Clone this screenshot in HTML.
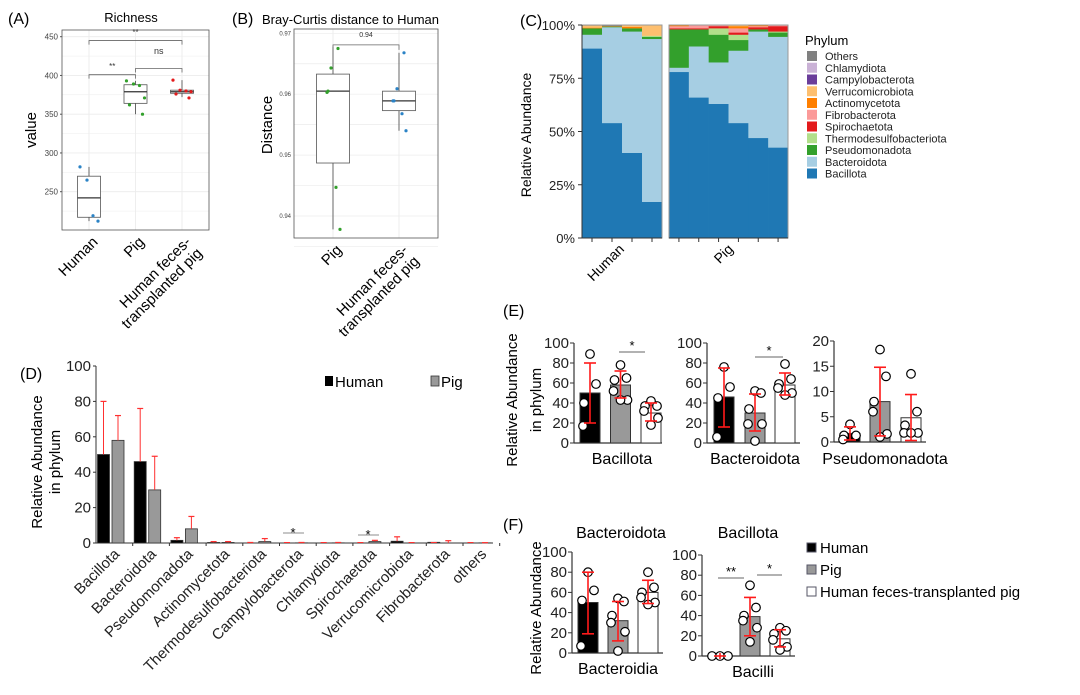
<!DOCTYPE html>
<html><head><meta charset="utf-8">
<style>
html,body{margin:0;padding:0;background:#fff;}
svg{display:block;font-family:"Liberation Sans",Arial,sans-serif;}
</style></head>
<body>
<svg id="fig" width="1080" height="695" viewBox="0 0 1080 695"></svg>
<script>
// ---------- Panel A data ----------
const richCats=['Human','Pig','Human feces-transplanted pig'];
const richStats=[[212,217,242,270,282],[350,364,379,388,393],[372,377,379,381,394]];
const richPts=[[282,265,219,212],[393,389,387,371,362,350],[394,381,380,379,376,371]];
const richTicks=[250,300,350,400,450];
// ---------- Panel B data ----------
const bcCats=['Pig','Human feces-transplanted pig'];
const bcStats=[[0.9378,0.9487,0.9605,0.9633,0.9678],[0.954,0.9573,0.9589,0.9605,0.9668]];
const bcPts=[[0.9675,0.9643,0.9605,0.9603,0.9447,0.9378],[0.9668,0.9609,0.9589,0.9589,0.9568,0.954]];
const bcTicks=[0.94,0.95,0.96,0.97];
// ---------- Panel C data ----------
const phyla=['Bacillota','Bacteroidota','Pseudomonadota','Thermodesulfobacteriota','Spirochaetota','Fibrobacterota','Actinomycetota','Verrucomicrobiota','Campylobacterota','Chlamydiota','Others'];
const phylaColors=['#1f78b4','#a6cee3','#33a02c','#b2df8a','#e31a1c','#fb9a99','#ff7f00','#fdbf6f','#6a3d9a','#cab2d6','#808080'];
const cBacillota=[89,54,40,17,78,66,63,54,47,42.5];
const cBacteroidota=[6.5,45,57,76.5,2,24,19.5,34,50,52];
const cPseudo=[3,0.3,1.5,1,18,8,13,5,1,2];
const cThermo=[0,0,0,0.5,0,0,3,2.5,0,0.5];
const cSpiro=[0,0,0,0,0.5,0.5,1,1,1,2.5];
const cFibro=[0,0,0,0,1,1.5,0.5,2,0.5,0.5];
const cActino=[0.3,0.2,0.7,0,0.5,0,0,1,0.5,0];
const cVerruco=[1,0,0.8,5,0,0,0,0.5,0,0];
const cCampylo=[0,0,0,0,0,0,0,0,0,0];
const cChlamyd=[0,0,0,0,0,0,0,0,0,0];
const cOthers=[0.2,0.5,0,0,0,0,0,0,0,0];
const cTicks=[0,25,50,75,100];
// ---------- Panel D data ----------
const dCats=['Bacillota','Bacteroidota','Pseudomonadota','Actinomycetota','Thermodesulfobacteriota','Campylobacterota','Chlamydiota','Spirochaetota','Verrucomicrobiota','Fibrobacterota','others'];
const dHuman=[50,46,1.5,0.3,0,0,0,0,1,0.4,0];
const dPig=[58,30,8,0.3,0.8,0.1,0.1,0.8,0,0,0.1];
const dHumanErr=[80,76,3,0.8,0.3,0,0,0,3.5,0,0];
const dPigErr=[72,49,15,0.8,2.5,0.3,0.3,1.5,0,1.3,0.2];
const dTicks=[0,20,40,60,80,100];
// ---------- Panel E data ----------
const eBacMean=[50,58,30], eBacLo=[20,45,22], eBacHi=[80,72,40];
const eBacPts=[[89,59,40,17],[78,65,63,52,43,43],[42,37,37,32,25,18]];
const eBctMean=[46,30,58], eBctLo=[16,12,48], eBctHi=[75,49,70];
const eBctPts=[[76,56,45,6],[52,50,34,19,19,2],[79,64,59,55,50,48]];
const ePseMean=[1.7,8,4.8], ePseLo=[0.4,1.2,0.3], ePseHi=[3,14.8,9.4];
const ePsePts=[[3.5,1.3,1.3,0.5],[18.3,13,8,6,1.6,1],[13.5,6,3.3,1.8,1.8,1.8]];
const eTicks100=[0,20,40,60,80,100], eTicks20=[0,5,10,15,20];
// ---------- Panel F data ----------
const fBctMean=[50,32,60], fBctLo=[19,12,49], fBctHi=[80,51,72];
const fBctPts=[[80,62,52,7],[54,51,37,30,21,2],[80,65,60,55,50,48]];
const fBacMean=[0,39,17], fBacLo=[0,20,9], fBacHi=[0,58,26];
const fBacPts=[[0,0,0],[70,48,40,35,28,14],[28,25,22,16,9,6]];
const groupNames=['Human','Pig','Human feces-transplanted pig'];
const groupFills=['#000000','#999999','#ffffff'];

const NS='http://www.w3.org/2000/svg';
const root=document.getElementById('fig');
function mk(tag,attrs,parent){const e=document.createElementNS(NS,tag);for(const k in attrs)e.setAttribute(k,attrs[k]);(parent||root).appendChild(e);return e;}
function tx(x,y,s,size,anchor,parent,fill){const e=mk('text',{x:x,y:y,'font-size':size,'text-anchor':anchor||'start',fill:fill||'#000'},parent);e.textContent=s;return e;}
function grp(name){const g=mk('g',{});return g;}

[['(A)',8,24],['(B)',232,24],['(C)',520,26],['(D)',20,379],['(E)',503,316],['(F)',503,530]].forEach(p=>{
  const t=tx(p[1],p[2],p[0],16,'start');
  
  
});

// ---------- Panel A ----------
(function(){
  const g=grp('panel-a-richness');
  const L=62,R=209,T=30,B=230;
  const y=v=>191.7-(v-250)*0.775;
  const x=i=>89+i*46.5;
  mk('rect',{x:L,y:T,width:R-L,height:B-T,fill:'#fff'},g);
  for(let v=225;v<=450;v+=25){mk('line',{x1:L,x2:R,y1:y(v),y2:y(v),stroke:'#ececec','stroke-width':v%50?0.5:0.9},g);}
  richCats.forEach((c,i)=>mk('line',{x1:x(i),x2:x(i),y1:T,y2:B,stroke:'#ececec','stroke-width':0.9},g));
  mk('rect',{x:L,y:T,width:R-L,height:B-T,fill:'none',stroke:'#555','stroke-width':0.8},g);
  richTicks.forEach(v=>{const t=tx(L-4,y(v)+3,String(v),8,'end',g,'#444');mk('line',{x1:L-2,x2:L,y1:y(v),y2:y(v),stroke:'#555'},g);});
  const cols=['#2b83c6','#33a02c','#e31a1c'];
  richStats.forEach((s,i)=>{
    const cx=x(i),w=23;
    mk('line',{x1:cx,x2:cx,y1:y(s[0]),y2:y(s[4]),stroke:'#444','stroke-width':0.8},g);
    const b=mk('rect',{x:cx-w/2,y:y(s[3]),width:w,height:y(s[1])-y(s[3]),fill:'#fff',stroke:'#555','stroke-width':0.8},g);
    
    
    mk('line',{x1:cx-w/2,x2:cx+w/2,y1:y(s[2]),y2:y(s[2]),stroke:'#333','stroke-width':1.3},g);
    richPts[i].forEach((v,j)=>{const jit=[-9,-2,4,9,-6,7][j%6];const p=mk('circle',{cx:cx+jit,cy:y(v),r:1.6,fill:cols[i]},g);});
    const mx=tx(cx+6,246,'',15,'end',g);
    mx.setAttribute('transform','rotate(-45 '+(cx+4)+' 240)');
    const parts=richCats[i]==='Human feces-transplanted pig'?['Human feces-','transplanted pig']:[richCats[i]];
    parts.forEach((p,k)=>{const ts=mk('tspan',{x:cx+6,dy:k?16:0},mx);ts.textContent=p;});
    
  });
  function br(i1,i2,v,lab,ly){const yy=y(v);mk('path',{d:`M${x(i1)} ${yy+4}V${yy}H${x(i2)}V${yy+4}`,fill:'none',stroke:'#666','stroke-width':0.8},g);tx((x(i1)+x(i2))/2,ly,lab,lab==='ns'?9:8,'middle',g,'#333');}
  br(0,1,401,'**',69);br(1,2,409,'ns',54);br(0,2,445,'**',35);
  tx(131,22,'Richness',13,'middle',g);
  const yl=tx(0,0,'value',15,'middle',g);yl.setAttribute('transform','translate(36,130) rotate(-90)');
  
})();

// ---------- Panel B ----------
(function(){
  const g=grp('panel-b-bray-curtis');
  const L=294,R=438,T=29,B=238;
  const y=v=>33.3+(0.97-v)/0.03*182.7;
  const x=i=>333+i*66;
  mk('rect',{x:L,y:T,width:R-L,height:B-T,fill:'#fff'},g);
  for(let v=0.935;v<=0.9701;v+=0.005){mk('line',{x1:L,x2:R,y1:y(v),y2:y(v),stroke:'#ececec','stroke-width':0.7},g);}
  bcCats.forEach((c,i)=>mk('line',{x1:x(i),x2:x(i),y1:T,y2:B,stroke:'#ececec','stroke-width':0.9},g));
  mk('rect',{x:L,y:T,width:R-L,height:B-T,fill:'none',stroke:'#555','stroke-width':0.8},g);
  bcTicks.forEach(v=>{const t=tx(L-3,y(v)+2,v.toFixed(2),6,'end',g,'#444');});
  const cols=['#33a02c','#2b83c6'];
  bcStats.forEach((s,i)=>{
    const cx=x(i),w=33;
    mk('line',{x1:cx,x2:cx,y1:y(s[0]),y2:y(s[4]),stroke:'#444','stroke-width':0.8},g);
    const b=mk('rect',{x:cx-w/2,y:y(s[3]),width:w,height:y(s[1])-y(s[3]),fill:'#fff',stroke:'#555','stroke-width':0.8},g);
    
    
    mk('line',{x1:cx-w/2,x2:cx+w/2,y1:y(s[2]),y2:y(s[2]),stroke:'#333','stroke-width':1.3},g);
    bcPts[i].forEach((v,j)=>{const jit=[5,-2,-5,-6,3,7][j%6];const p=mk('circle',{cx:cx+jit,cy:y(v),r:1.6,fill:cols[i]},g);});
    const mx=tx(cx+6,254,'',15,'end',g);
    mx.setAttribute('transform','rotate(-45 '+(cx+4)+' 248)');
    const parts=bcCats[i]==='Pig'?['Pig']:['Human feces-','transplanted pig'];
    parts.forEach((p,k)=>{const ts=mk('tspan',{x:cx+6,dy:k?16:0},mx);ts.textContent=p;});
    
  });
  const yy=y(0.9681);mk('path',{d:`M${x(0)} ${yy+5}V${yy}H${x(1)}V${yy+5}`,fill:'none',stroke:'#666','stroke-width':0.8},g);
  tx(366,37,'0.94',7,'middle',g,'#333');
  tx(262,24,'Bray-Curtis distance to Human',13,'start',g);
  const yl=tx(0,0,'Distance',15,'middle',g);yl.setAttribute('transform','translate(272,125) rotate(-90)');
  
})();

// ---------- Panel C ----------
(function(){
  const g=grp('panel-c-stacked-abundance');
  const T=25,B=238;
  const y=v=>B-(v/100)*(B-T);
  const series=[cBacillota,cBacteroidota,cPseudo,cThermo,cSpiro,cFibro,cActino,cVerruco,cCampylo,cChlamyd,cOthers];
  const facets=[{L:582,R:662,idx:[0,1,2,3],lab:'Human'},{L:669,R:788,idx:[4,5,6,7,8,9],lab:'Pig'}];
  facets.forEach(f=>{
    const n=f.idx.length,w=(f.R-f.L)/n;
    f.idx.forEach((s,k)=>{
      let acc=0;
      series.forEach((arr,p)=>{
        const v=arr[s];if(v<=0)return;
        const r=mk('rect',{x:f.L+k*w,y:y(acc+v),width:w+0.3,height:y(acc)-y(acc+v)+0.2,fill:phylaColors[p]},g);
        
        acc+=v;
      });
      mk('line',{x1:f.L+(k+0.5)*w,x2:f.L+(k+0.5)*w,y1:B,y2:B+4,stroke:'#333'},g);
    });
    mk('rect',{x:f.L,y:T,width:f.R-f.L,height:B-T,fill:'none',stroke:'#999','stroke-width':1},g);
    mk('line',{x1:f.L,x2:f.R,y1:B,y2:B,stroke:'#333','stroke-width':1},g);
  });
  mk('line',{x1:582,x2:582,y1:T,y2:B,stroke:'#333'},g);
  cTicks.forEach(v=>{mk('line',{x1:578,x2:582,y1:y(v),y2:y(v),stroke:'#333'},g);const t=tx(575,y(v)+5,v+'%',13,'end',g,'#222');});
  const h=tx(0,0,'Human',14,'end',g);h.setAttribute('transform','translate(625,250) rotate(-45)');
  const p=tx(0,0,'Pig',14,'end',g);p.setAttribute('transform','translate(734,250) rotate(-45)');
  const yl=tx(0,0,'Relative Abundance',14,'middle',g);yl.setAttribute('transform','translate(531,135) rotate(-90)');
  tx(805,45,'Phylum',13,'start',g);
  const order=[10,9,8,7,6,5,4,3,2,1,0];
  order.forEach((p,k)=>{
    const yy=51+k*11.75;
    const e=mk('g',{},g);
    
    
    mk('rect',{x:807,y:yy,width:10,height:10,fill:phylaColors[p]},e);
    tx(825,yy+9,phyla[p],11,'start',e,'#222');
  });
})();

// ---------- Panel D ----------
(function(){
  const g=grp('panel-d-phylum-bars');
  const L=96,R=493,T=366,B=543,gw=36.7;
  const y=v=>B-(v/100)*(B-T);
  mk('line',{x1:L,x2:L,y1:T,y2:B,stroke:'#333','stroke-width':1},g);
  mk('line',{x1:L,x2:R,y1:B,y2:B,stroke:'#333','stroke-width':1},g);
  dTicks.forEach(v=>{mk('line',{x1:L-3,x2:L,y1:y(v),y2:y(v),stroke:'#333'},g);const t=tx(L-5,y(v)+5,String(v),15,'end',g,'#222');});
  dCats.forEach((c,i)=>{
    const gx=L+i*gw;
    mk('line',{x1:gx+gw,x2:gx+gw,y1:B,y2:B+3,stroke:'#333'},g);
    [[dHuman,dHumanErr,'#000',1.5,'human'],[dPig,dPigErr,'#999',16,'pig']].forEach(s=>{
      const v=s[0][i],e=s[1][i],bx=gx+s[3],bw=12;
      if(v>0){const r=mk('rect',{x:bx,y:y(v),width:bw,height:B-y(v),fill:s[2],stroke:'#333','stroke-width':0.8},g);}
      if(e>0){mk('line',{x1:bx+bw/2,x2:bx+bw/2,y1:y(v),y2:y(e),stroke:'#ff3030','stroke-width':1},g);mk('line',{x1:bx+bw/2-3,x2:bx+bw/2+3,y1:y(e),y2:y(e),stroke:'#ff3030','stroke-width':1.2},g);}
      else{mk('line',{x1:bx+bw/2-3,x2:bx+bw/2+3,y1:B-0.5,y2:B-0.5,stroke:'#ff3030','stroke-width':1},g);}
    });
    const t=tx(0,0,c,15,'end',g,'#222');
    t.setAttribute('transform','translate('+(gx+gw/2+6)+','+(B+12)+') rotate(-45)');
    
  });
  mk('line',{x1:283,x2:304,y1:533,y2:533,stroke:'#666','stroke-width':0.8},g);tx(293,537,'*',13,'middle',g);
  mk('line',{x1:358,x2:379,y1:535,y2:535,stroke:'#666','stroke-width':0.8},g);tx(368,539,'*',13,'middle',g);
  const yl=tx(0,0,'Relative Abundance',15,'middle',g);yl.setAttribute('transform','translate(42,462) rotate(-90)');
  const yl2=tx(0,0,'in phylum',15,'middle',g);yl2.setAttribute('transform','translate(60,462) rotate(-90)');
  
  const lh=mk('g',{},g);
  mk('rect',{x:325,y:376,width:8,height:10,fill:'#000'},lh);tx(335,387,'Human',15,'start',lh);
  const lp=mk('g',{},g);
  mk('rect',{x:431,y:376,width:8,height:10,fill:'#999',stroke:'#333','stroke-width':0.8},lp);tx(441,387,'Pig',15,'start',lp);
})();

// ---------- Dot-bar helper for E/F ----------
function dotBar(cfg,mean,lo,hi,pts,ticks,max){
  const g=grp(cfg.name);
  const y=v=>cfg.B-(v/max)*(cfg.B-cfg.T);
  mk('line',{x1:cfg.L,x2:cfg.L,y1:cfg.T,y2:cfg.B,stroke:'#333','stroke-width':1.2},g);
  mk('line',{x1:cfg.L,x2:cfg.R,y1:cfg.B,y2:cfg.B,stroke:'#333','stroke-width':1.2},g);
  ticks.forEach(v=>{mk('line',{x1:cfg.L-4,x2:cfg.L,y1:y(v),y2:y(v),stroke:'#333'},g);const t=tx(cfg.L-5,y(v)+5,String(v),15,'end',g,'#222');});
  mean.forEach((m,i)=>{
    const cx=cfg.X[i];
    if(m>0){const r=mk('rect',{x:cx-10,y:y(m),width:20,height:cfg.B-y(m),fill:groupFills[i],stroke:'#333','stroke-width':1},g);}
    pts[i].forEach((v,j)=>{
      const ox=pts[i].length===3?[-8,0,8][j]:[0,6,-6,-7,7,0][j%6];
      const c=mk('circle',{cx:cx+ox,cy:y(v),r:4.3,fill:'#fff',stroke:'#000','stroke-width':1.2},g);
      
    });
    if(hi[i]>lo[i]){
      mk('line',{x1:cx,x2:cx,y1:y(hi[i]),y2:y(lo[i]),stroke:'#ff1a1a','stroke-width':1.6},g);
      mk('line',{x1:cx-6,x2:cx+6,y1:y(hi[i]),y2:y(hi[i]),stroke:'#ff1a1a','stroke-width':1.6},g);
      mk('line',{x1:cx-6,x2:cx+6,y1:y(lo[i]),y2:y(lo[i]),stroke:'#ff1a1a','stroke-width':1.6},g);
    } else {mk('line',{x1:cx-6,x2:cx+6,y1:y(m),y2:y(m),stroke:'#ff1a1a','stroke-width':1.6},g);mk('line',{x1:cx,x2:cx,y1:y(m)-3,y2:y(m)+3,stroke:'#ff1a1a','stroke-width':1.6},g);}
  });
  if(cfg.xlab){const t=tx(cfg.xlx,cfg.xly,cfg.xlab,16,'middle',g);}
  if(cfg.title){const t=tx(cfg.tx,cfg.ty,cfg.title,16,'middle',g);}
  (cfg.sig||[]).forEach(s=>{mk('line',{x1:s[0],x2:s[1],y1:s[2],y2:s[2],stroke:'#666','stroke-width':0.9},g);tx((s[0]+s[1])/2,s[2]-2,s[3],13,'middle',g);});
  return g;
}
dotBar({name:'panel-e-bacillota',L:574,R:662,T:343,B:443,X:[590,620.5,651],xlab:'Bacillota',xlx:622,xly:464,sig:[[619,645,352,'*']]},eBacMean,eBacLo,eBacHi,eBacPts,eTicks100,100);
dotBar({name:'panel-e-bacteroidota',L:707,R:800,T:343,B:443,X:[724,755,785],xlab:'Bacteroidota',xlx:755,xly:464,sig:[[755,783,357,'*']]},eBctMean,eBctLo,eBctHi,eBctPts,eTicks100,100);
dotBar({name:'panel-e-pseudomonadota',L:834,R:926,T:341,B:442,X:[850,880,911],xlab:'Pseudomonadota',xlx:885,xly:464},ePseMean,ePseLo,ePseHi,ePsePts,eTicks20,20);
dotBar({name:'panel-f-bacteroidota',L:572,R:663,T:552,B:653,X:[588,618,648],xlab:'Bacteroidia',xlx:618,xly:674,title:'Bacteroidota',tx:621,ty:538},fBctMean,fBctLo,fBctHi,fBctPts,eTicks100,100);
dotBar({name:'panel-f-bacillota',L:702,R:795,T:555,B:656,X:[720,750,780],xlab:'Bacilli',xlx:753,xly:677,title:'Bacillota',tx:748,ty:538,sig:[[718,744,578,'**'],[757,782,575,'*']]},fBacMean,fBacLo,fBacHi,fBacPts,eTicks100,100);

(function(){
  const a=tx(0,0,'Relative Abundance',15,'middle');a.setAttribute('transform','translate(517,400) rotate(-90)');
  
  const b=tx(0,0,'in phylum',15,'middle');b.setAttribute('transform','translate(541,400) rotate(-90)');
  const c=tx(0,0,'Relative Abundance',15,'middle');c.setAttribute('transform','translate(541,608) rotate(-90)');
  
  const g=grp('f-legend');
  groupNames.forEach((n,i)=>{
    const e=mk('g',{},g);
    
    
    mk('rect',{x:807,y:543+i*22,width:9,height:9,fill:groupFills[i],stroke:'#556','stroke-width':1},e);
    tx(820,553+i*22,n,15,'start',e);
  });
})();
</script>
</body></html>
